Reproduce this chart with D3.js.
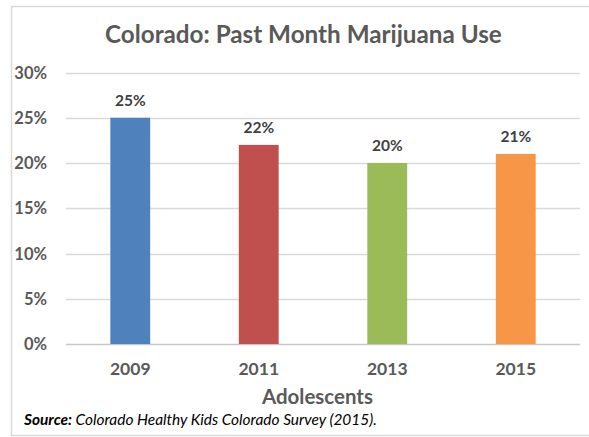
<!DOCTYPE html>
<html><head><meta charset="utf-8">
<script src="https://cdn.jsdelivr.net/npm/d3@7"></script>
<style>body{margin:0;background:#fff;} svg{display:block;}</style>
</head><body>
<svg id="c" width="589" height="437"></svg>
<script>
const categories = ["2009", "2011", "2013", "2015"];
const values = [25, 22, 20, 21];
const colors = ["#4F81BD", "#C0504D", "#9BBB59", "#F79646"];
const yTicks = [0, 5, 10, 15, 20, 25, 30];
const title = "Colorado: Past Month Marijuana Use";
const xTitle = "Adolescents";
const sourceLabel = "Source:";
const sourceText = " Colorado Healthy Kids Colorado Survey (2015).";

const svg = d3.select("#c");
const font = "Lato, 'Open Sans', sans-serif";

// frame
svg.append("rect").attr("x", 11.5).attr("y", 6.5).attr("width", 600).attr("height", 429)
  .attr("fill", "#fff").attr("stroke", "#d9d9d9").attr("stroke-width", 1.5);

const x = d3.scaleBand().domain(categories).range([66, 580]).paddingInner(0.69).paddingOuter(0.345);
const y = d3.scaleLinear().domain([0, 30]).range([344, 72.5]);

function fit(sel, w) {
  const cur = sel.node().getComputedTextLength();
  const fs = parseFloat(sel.attr("font-size"));
  sel.attr("font-size", fs * w / cur);
}

// gridlines
svg.append("g").selectAll("line").data(yTicks).join("line")
  .attr("x1", 66).attr("x2", 580)
  .attr("y1", d => Math.round(y(d)) + 0.5).attr("y2", d => Math.round(y(d)) + 0.5)
  .attr("stroke", d => d === 0 ? "#c8c8c8" : "#d9d9d9").attr("stroke-width", 1.5);

// y tick labels
svg.append("g").selectAll("text").data(yTicks).join("text")
  .attr("x", 47).attr("y", d => y(d) + 6)
  .attr("text-anchor", "end").attr("font-family", font).attr("font-weight", 700)
  .attr("font-size", 16.5).attr("fill", "#595959")
  .text(d => d + "%");

// bars
svg.append("g").selectAll("rect").data(values).join("rect")
  .attr("x", (d, i) => x(categories[i])).attr("width", x.bandwidth())
  .attr("y", d => y(d)).attr("height", d => y(0) - y(d))
  .attr("fill", (d, i) => colors[i]);

// data labels
svg.append("g").selectAll("text").data(values).join("text")
  .attr("x", (d, i) => x(categories[i]) + x.bandwidth() / 2).attr("y", d => y(d) - 12)
  .attr("text-anchor", "middle").attr("font-family", font).attr("font-weight", 700)
  .attr("font-size", 15.5).attr("fill", "#404040")
  .text(d => d + "%");

// x tick labels
svg.append("g").selectAll("text").data(categories).join("text")
  .attr("x", d => x(d) + x.bandwidth() / 2).attr("y", 375)
  .attr("text-anchor", "middle").attr("font-family", font).attr("font-weight", 700)
  .attr("font-size", 17.5).attr("fill", "#595959")
  .text(d => d);

// title
const t = svg.append("text").attr("x", 105).attr("y", 43)
  .attr("font-family", font).attr("font-weight", 700).attr("font-size", 24)
  .attr("fill", "#595959").text(title);
fit(t, 397);

// x axis title
const xt = svg.append("text").attr("x", 262).attr("y", 404)
  .attr("font-family", font).attr("font-weight", 700).attr("font-size", 19)
  .attr("fill", "#595959").text(xTitle);
fit(xt, 111);

// source
const s = svg.append("text").attr("x", 24).attr("y", 425)
  .attr("font-family", font).attr("font-size", 14).attr("fill", "#000");
s.append("tspan").attr("font-weight", 700).attr("font-style", "italic").text(sourceLabel);
s.append("tspan").attr("font-style", "italic").text(sourceText);
fit(s, 353);
</script>
</body></html>
